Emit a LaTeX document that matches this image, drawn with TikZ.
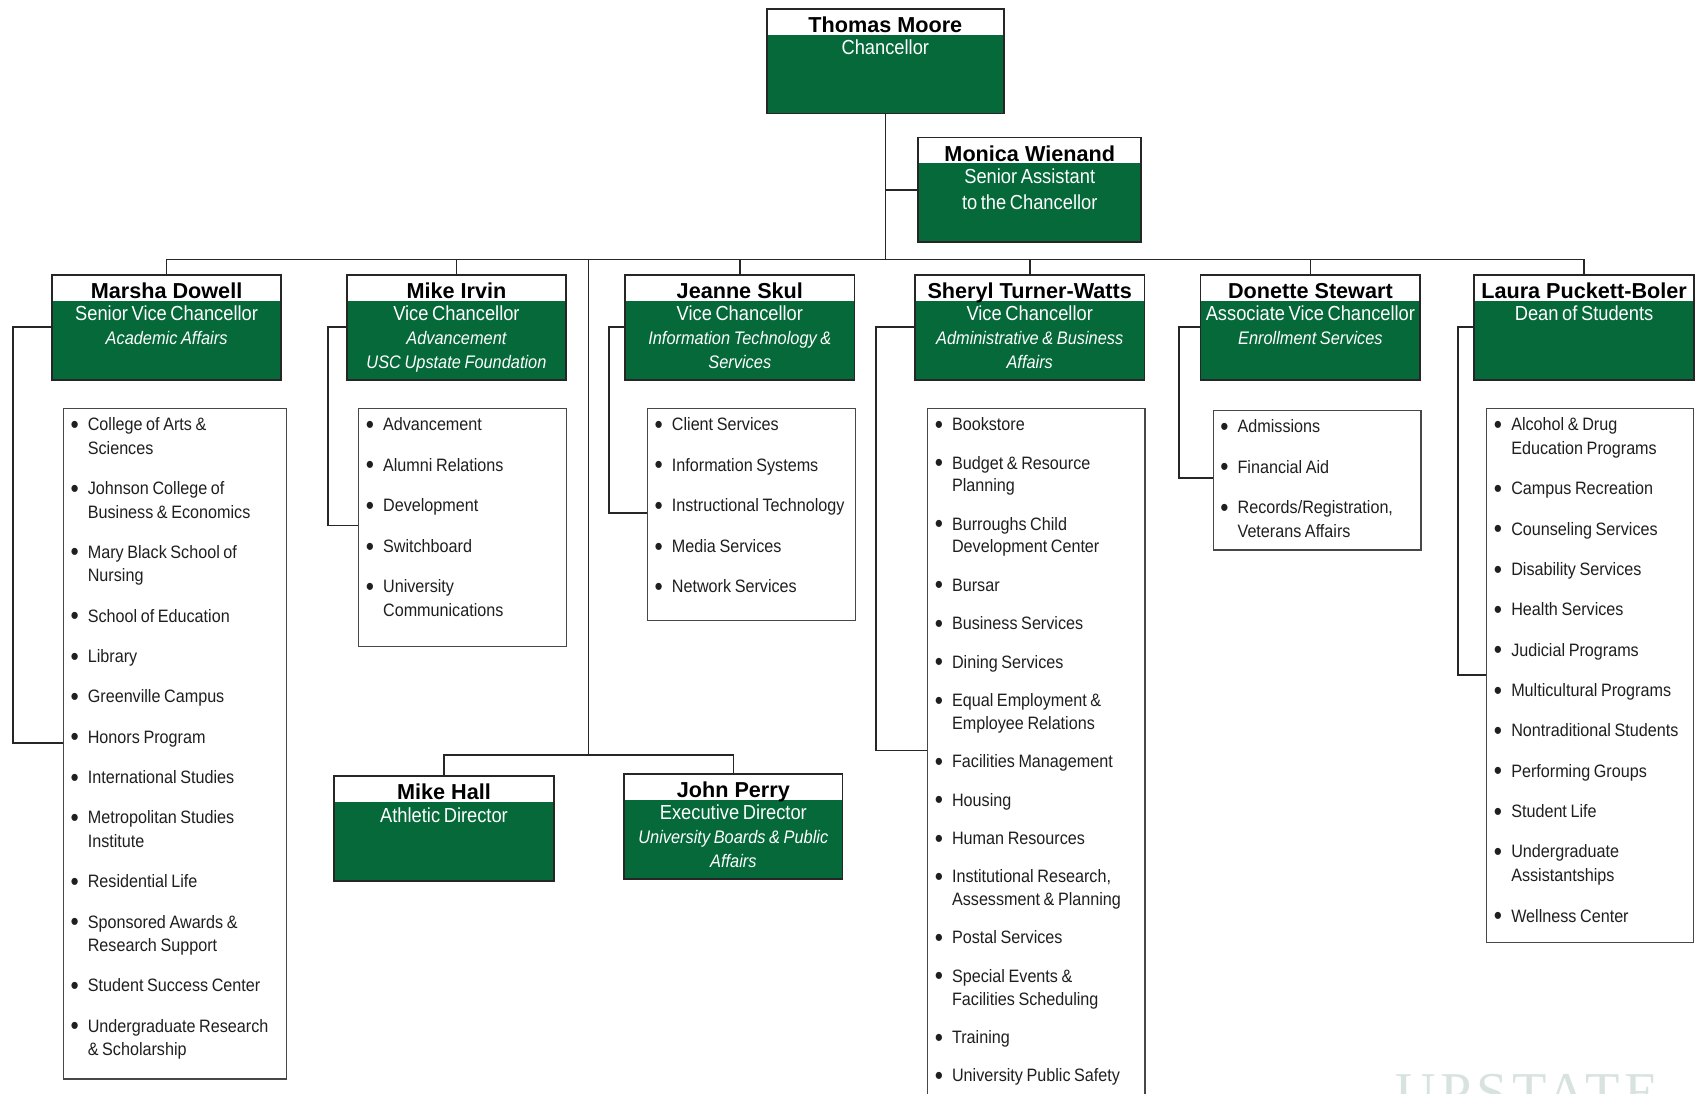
\documentclass[tikz,border=0pt]{standalone}
\usepackage{fontspec}
\setmainfont{Liberation Sans}
\newfontfamily\narrowfont[FakeStretch=0.9]{Liberation Sans}
\newfontfamily\markfont[LetterSpace=8]{Liberation Serif}
\usetikzlibrary{positioning}
\definecolor{upgreen}{HTML}{05693A}
\definecolor{frame}{HTML}{262626}
\definecolor{markgray}{HTML}{D8E3E0}
\newcommand{\namefont}{\fontsize{20}{22}\selectfont\bfseries}
\newcommand{\titlefont}{\narrowfont\fontsize{18.8}{24}\selectfont}
\newcommand{\subfont}{\narrowfont\fontsize{16.8}{22}\selectfont\itshape}
\newcommand{\sub}[1]{\par{\subfont #1\par}}
\newcommand{\lst}[2]{\narrowfont\fontsize{16.6}{#1}\selectfont\raggedright\parskip=#2\relax\ignorespaces}
\newcommand{\bulletmark}{\raisebox{-2.4pt}{\fontsize{24}{24}\selectfont\textbullet}}
\newcommand{\itm}[1]{\hangindent=16pt\hangafter=1\noindent\makebox[16pt][l]{\bulletmark}#1\par}
\newcommand{\officebox}[5]{%
  \node[headbox, minimum width=#3] (#1) at (#2) {};
  \node[nametext] (#1-n) at ([yshift=-22.7pt]#1.north) {#4};
  \node[roletext, text width=#3] (#1-r) at ([yshift=-29.5pt]#1.north) {#5};}
\newcommand{\deptlist}[5]{%
  \node[listbox, minimum width=#3, minimum height=#4] (#1) at (#2) {};
  \node[listtext, text width=#3-8pt] (#1-t) at ([xshift=7pt,yshift=-9pt]#1.north west) {#5};}
\tikzset{
  headbox/.style={rectangle, draw=frame, line width=1.6pt, fill=white, inner sep=0pt, minimum height=97pt,
    path picture={\fill[upgreen] ([yshift=-24pt]path picture bounding box.north west) rectangle (path picture bounding box.south east);}},
  nametext/.style={anchor=base, inner sep=0pt, font=\namefont},
  roletext/.style={anchor=north, inner sep=0pt, align=center, text=white, execute at begin node=\titlefont},
  listbox/.style={rectangle, draw=frame!85, line width=1.2pt, fill=white, anchor=north west, inner sep=0pt},
  listtext/.style={anchor=north west, inner sep=0pt, text=black!88},
  tie/.style={draw=frame, line width=1.5pt},
  wmark/.style={anchor=north west, inner sep=0pt, text=markgray, font=\markfont\fontsize{52}{52}\selectfont}
}
\begin{document}
\begin{tikzpicture}[x=1pt, y=-1pt]
 \useasboundingbox (0,0) rectangle (1568,1011);
 \officebox{tm}{818.5,56.5}{219pt}{Thomas Moore}{Chancellor}
 \officebox{mw}{952,175.5}{206pt}{Monica Wienand}{Senior Assistant\par to the Chancellor}
 \officebox{md}{154,302.5}{212pt}{Marsha Dowell}{Senior Vice Chancellor\sub{Academic Affairs}}
 \officebox{mi}{422,302.5}{202pt}{Mike Irvin}{Vice Chancellor\sub{Advancement}\sub{USC Upstate Foundation}}
 \officebox{js}{684,302.5}{212pt}{Jeanne Skul}{Vice Chancellor\sub{Information Technology \&}\sub{Services}}
 \officebox{stw}{952,302.5}{212pt}{Sheryl Turner-Watts}{Vice Chancellor\sub{Administrative \& Business}\sub{Affairs}}
 \officebox{ds}{1211.5,302.5}{203pt}{Donette Stewart}{Associate Vice Chancellor\sub{Enrollment Services}}
 \officebox{lpb}{1464.5,302.5}{203pt}{Laura Puckett-Boler}{Dean of Students}
 \officebox{mh}{410.5,766}{203pt}{Mike Hall}{Athletic Director}
 \officebox{jp}{678,764}{202pt}{John Perry}{Executive Director\sub{University Boards \& Public}\sub{Affairs}}

 \deptlist{md-l}{58,377}{206pt}{620pt}{\lst{21.7pt}{15.6pt}
  \itm{College of Arts \&\newline Sciences}
  \itm{Johnson College of\newline Business \& Economics}
  \itm{Mary Black School of\newline Nursing}
  \itm{School of Education}
  \itm{Library}
  \itm{Greenville Campus}
  \itm{Honors Program}
  \itm{International Studies}
  \itm{Metropolitan Studies\newline Institute}
  \itm{Residential Life}
  \itm{Sponsored Awards \&\newline Research Support}
  \itm{Student Success Center}
  \itm{Undergraduate Research\newline \& Scholarship}}
 \deptlist{mi-l}{331,377}{192pt}{220pt}{\lst{22pt}{15.5pt}
  \itm{Advancement}
  \itm{Alumni Relations}
  \itm{Development}
  \itm{Switchboard}
  \itm{University\newline Communications}}
 \deptlist{js-l}{598,377}{192pt}{196pt}{\lst{22pt}{15.5pt}
  \itm{Client Services}
  \itm{Information Systems}
  \itm{Instructional Technology}
  \itm{Media Services}
  \itm{Network Services}}
 \deptlist{stw-l}{857,377}{201pt}{700pt}{\lst{21pt}{14.5pt}
  \itm{Bookstore}
  \itm{Budget \& Resource\newline Planning}
  \itm{Burroughs Child\newline Development Center}
  \itm{Bursar}
  \itm{Business Services}
  \itm{Dining Services}
  \itm{Equal Employment \&\newline Employee Relations}
  \itm{Facilities Management}
  \itm{Housing}
  \itm{Human Resources}
  \itm{Institutional Research,\newline Assessment \& Planning}
  \itm{Postal Services}
  \itm{Special Events \&\newline Facilities Scheduling}
  \itm{Training}
  \itm{University Public Safety}}
 \deptlist{ds-l}{1121,379}{192pt}{129pt}{\lst{22pt}{15.3pt}
  \itm{Admissions}
  \itm{Financial Aid}
  \itm{Records/Registration,\newline Veterans Affairs}}
 \deptlist{lpb-l}{1374,377}{191pt}{494pt}{\lst{22pt}{15.3pt}
  \itm{Alcohol \& Drug\newline Education Programs}
  \itm{Campus Recreation}
  \itm{Counseling Services}
  \itm{Disability Services}
  \itm{Health Services}
  \itm{Judicial Programs}
  \itm{Multicultural Programs}
  \itm{Nontraditional Students}
  \itm{Performing Groups}
  \itm{Student Life}
  \itm{Undergraduate\newline Assistantships}
  \itm{Wellness Center}}

 \node[wmark] (logo) at (1290,993) {UPSTATE};

 \coordinate (bus) at (818.5,240); \coordinate (ath) at (544,698);
 \coordinate (md-c) at (12,687); \coordinate (mi-c) at (303,486); \coordinate (js-c) at (563,474);
 \coordinate (stw-c) at (810,694); \coordinate (ds-c) at (1090,442); \coordinate (lpb-c) at (1348,624);
 \draw[tie] (tm.south) -- (bus); \draw[tie] (mw.west) -- (mw.west -| bus);
 \draw[tie] (md.north) |- (bus) -| (lpb.north);
 \foreach \h in {mi,js,stw,ds} \draw[tie] (\h.north) -- (\h.north |- bus);
 \draw[tie] (ath |- bus) -- (ath); \draw[tie] (mh.north) |- (ath) -| (jp.north);
 \foreach \h in {md,mi,js,stw,ds,lpb} \draw[tie] (\h.west) -| (\h-c) -- (\h-c -| \h-l.west);
\end{tikzpicture}
\end{document}
